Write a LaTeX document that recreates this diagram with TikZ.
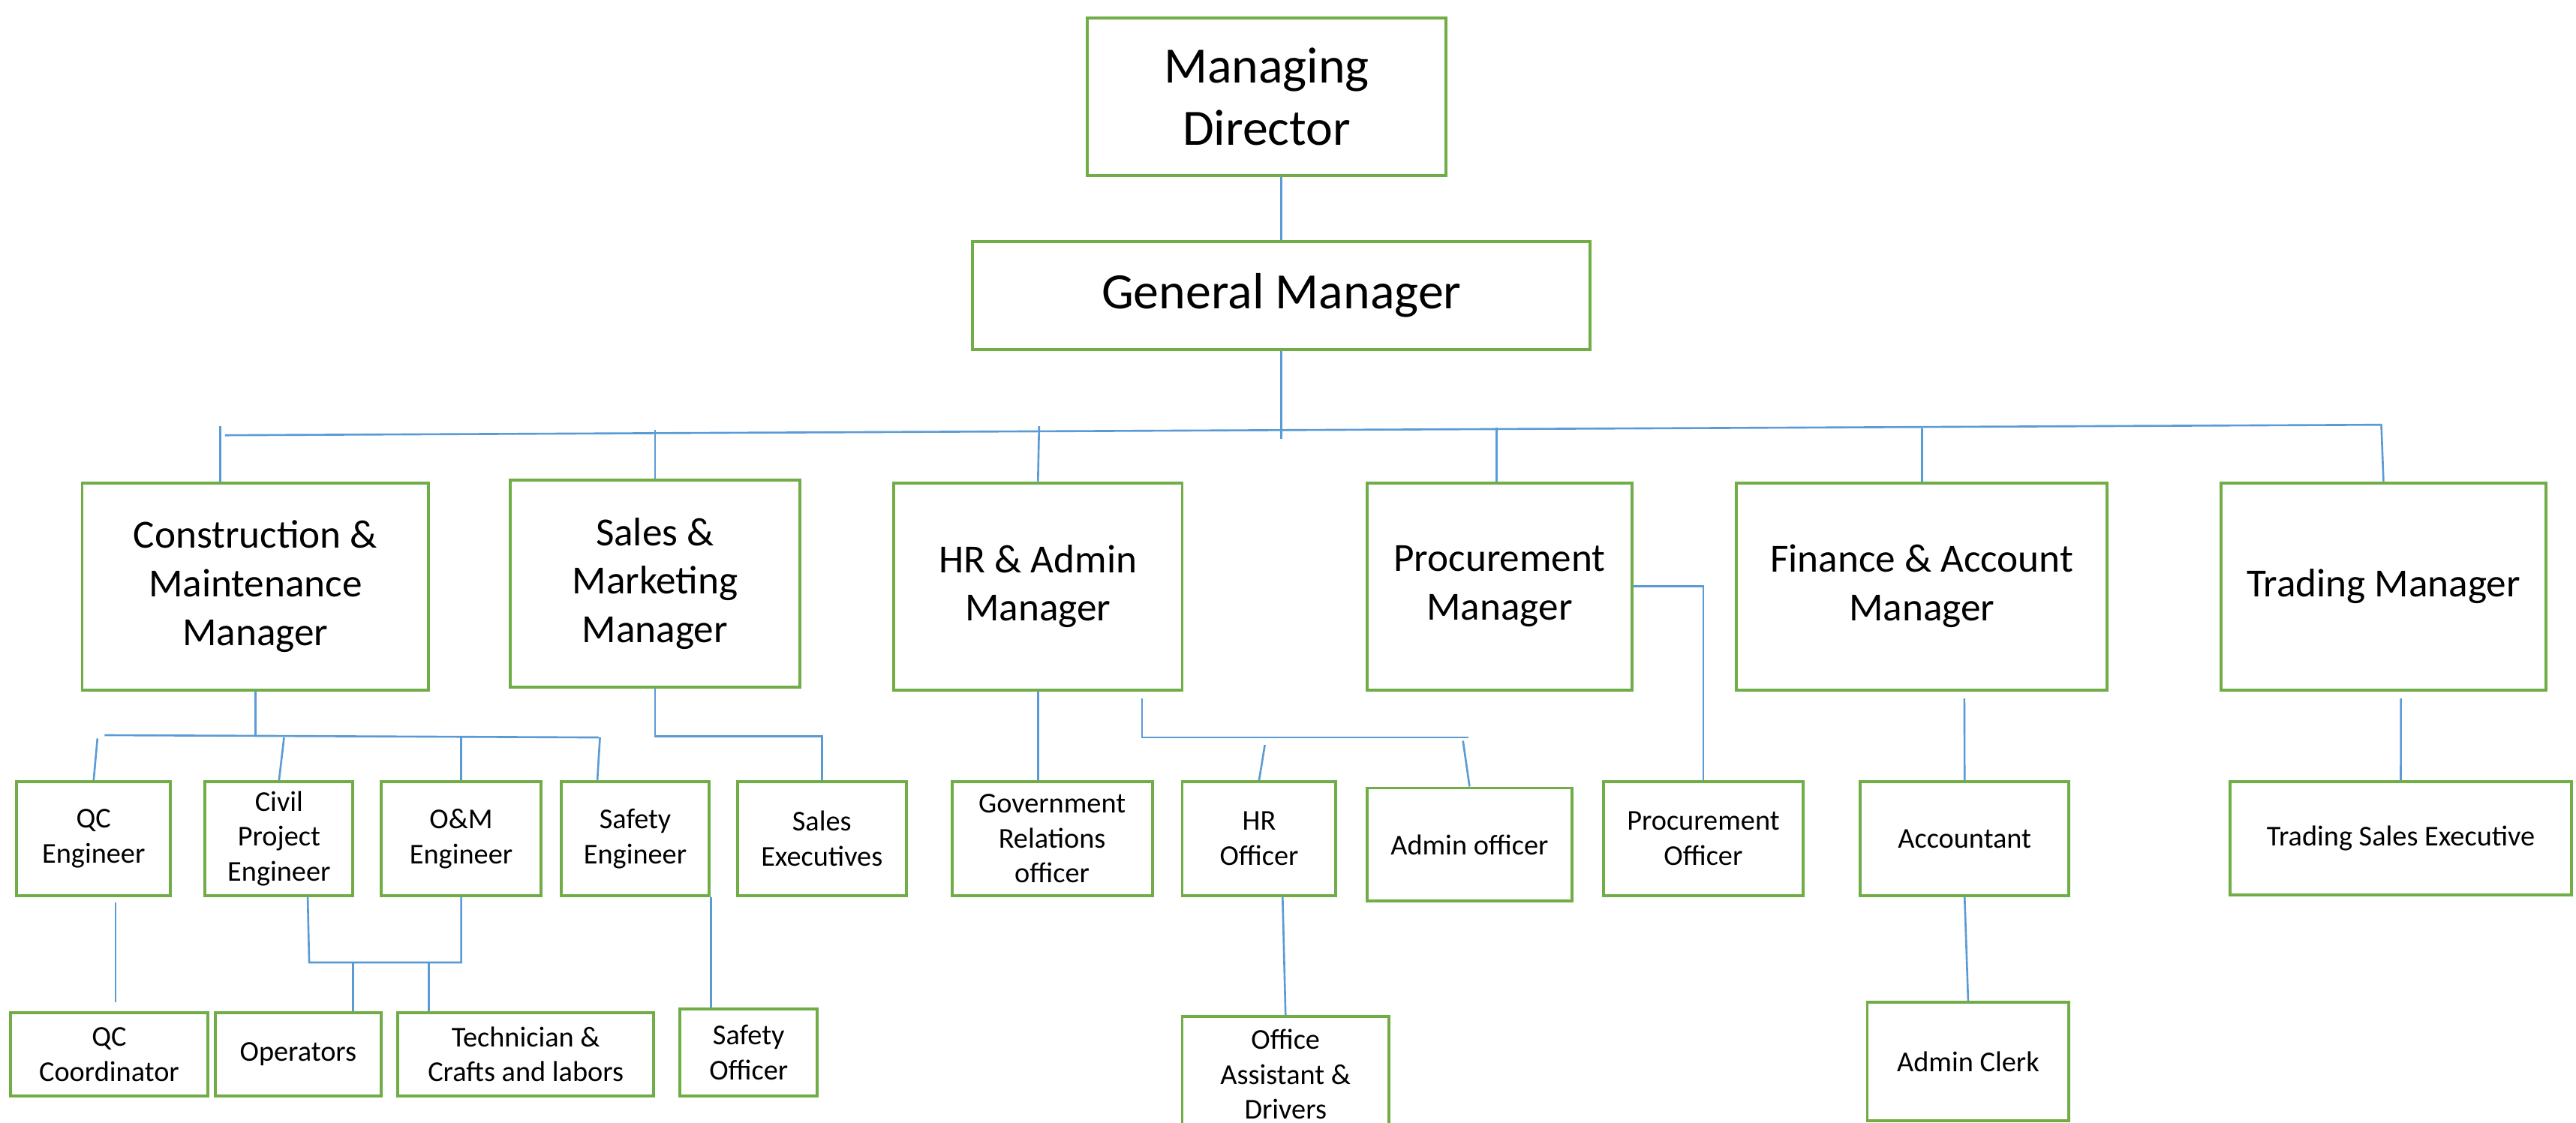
\documentclass[tikz,border=0pt]{standalone}
\usepackage{fontspec}
\setmainfont{Carlito}
\usetikzlibrary{calc}
\definecolor{boxgreen}{HTML}{70AD47}
\definecolor{wireblue}{HTML}{5B9BD5}
\tikzset{
  box/.style={draw=boxgreen, line width=1.8pt, fill=white, rectangle, inner sep=0pt, align=center, text=black},
  big/.style={box, font=\fontsize{31}{37.8}\selectfont},
  mgr/.style={box, font=\fontsize{24.3}{29.6}\selectfont},
  small/.style={box, font=\fontsize{17.5}{21.3}\selectfont},
  wire/.style={draw=wireblue, line width=1.2pt},
}
\begin{document}
\begin{tikzpicture}[x=1pt,y=-1pt]
\useasboundingbox (0,0) rectangle (1568,683.7);
\clip (0,0) rectangle (1568,683.7);
% top levels
\node[big, minimum width=218pt, minimum height=96pt] (md) at (771,59) {Managing\\Director};
\node[big, minimum width=376pt, minimum height=66pt] (gm) at (780,180) {General Manager};
% managers
\node[mgr, minimum width=211pt, minimum height=126pt] (cm) at (155.5,357) {Construction \&\\Maintenance\\Manager};
\node[mgr, minimum width=176pt, minimum height=126pt] (sm) at (398.7,355.3) {Sales \&\\Marketing\\Manager};
\node[mgr, minimum width=175.6pt, minimum height=126pt] (hr) at (631.8,357) {HR \& Admin\\Manager};
\node[mgr, minimum width=161.6pt, minimum height=126pt] (pm) at (912.8,357) {Procurement\\Manager};
\node[mgr, minimum width=225.5pt, minimum height=126pt] (fa) at (1169.8,357) {Finance \& Account\\Manager};
\node[mgr, minimum width=198pt, minimum height=126pt] (tm) at (1450.8,357) {Trading Manager};
% level 3
\node[small, minimum width=93.6pt, minimum height=69.3pt] (qce) at (57,510.6) {QC\\Engineer};
\node[small, minimum width=89.9pt, minimum height=69.3pt] (cpe) at (169.85,510.6) {Civil\\Project\\Engineer};
\node[small, minimum width=97.6pt, minimum height=69.3pt] (ome) at (280.7,510.6) {O\&M\\Engineer};
\node[small, minimum width=90.3pt, minimum height=69.3pt] (sfe) at (386.65,510.6) {Safety\\Engineer};
\node[small, minimum width=102.7pt, minimum height=69.3pt] (sex) at (500.25,510.6) {Sales\\Executives};
\node[small, minimum width=122pt, minimum height=69.3pt] (gro) at (640.4,510.6) {Government\\Relations\\officer};
\node[small, minimum width=93.6pt, minimum height=69.3pt] (hro) at (766.4,510.6) {HR\\Officer};
\node[small, minimum width=124.8pt, minimum height=68.9pt] (ado) at (894.5,514.25) {Admin officer};
\node[small, minimum width=121.3pt, minimum height=69.3pt] (pro) at (1036.75,510.6) {Procurement\\Officer};
\node[small, minimum width=127.1pt, minimum height=69.3pt] (acc) at (1195.85,510.6) {Accountant};
\node[small, minimum width=207.9pt, minimum height=68.8pt] (tse) at (1461.35,510.4) {Trading Sales Executive};
% bottom level
\node[small, minimum width=120.5pt, minimum height=50.6pt] (qcc) at (66.45,641.9) {QC\\Coordinator};
\node[small, minimum width=100.8pt, minimum height=50.6pt] (ops) at (181.5,641.9) {Operators};
\node[small, minimum width=155.9pt, minimum height=50.6pt] (tec) at (320.05,641.9) {Technician \&\\Crafts and labors};
\node[small, minimum width=83.4pt, minimum height=52.9pt] (sfo) at (455.7,640.75) {Safety\\Officer};
\node[small, minimum width=125.8pt, minimum height=70pt] (oad) at (782.5,654) {Office\\Assistant \&\\Drivers};
\node[small, minimum width=122.8pt, minimum height=71.9pt] (acl) at (1198,646.25) {Admin Clerk};
% top connectors
\draw[wire] (md.south -| gm.north) -- (gm.north);
\coordinate (gmb) at (780,267);
\draw[wire] (gm.south) -- (gmb);
\coordinate (busL) at (137,265);
\coordinate (busR) at (1450,258.6);
\draw[wire] (busL) -- (busR);
\coordinate (tcm) at (134,259.5);
\coordinate (tsm) at (398.7,261.7);
\coordinate (thr) at (632.5,259.5);
\coordinate (tpm) at (911,260.5);
\coordinate (tfa) at (1170,261);
\coordinate (ttm) at (1449.5,259);
\draw[wire] (tcm) -- (tcm |- cm.north);
\draw[wire] (tsm) -- (tsm |- sm.north);
\draw[wire] (thr) -- (hr.north);
\draw[wire] (tpm) -- (tpm |- pm.north);
\draw[wire] (tfa) -- (tfa |- fa.north);
\draw[wire] (ttm) -- (tm.north);
% construction & maintenance branch
\coordinate (cmj) at (155.5,448.3);
\draw[wire] (cm.south) -- (cmj);
\coordinate (cbL) at (63.7,447.6);
\coordinate (cbR) at (364.5,449);
\draw[wire] (cbL) -- (cbR);
\coordinate (qct) at (59.3,449.6);
\draw[wire] (qct) -- (qce.north);
\coordinate (cpt) at (172.9,449);
\draw[wire] (cpt) -- (cpe.north);
\draw[wire] (ome.north |- cbR) -- (ome.north);
\coordinate (sft) at (365.2,449);
\draw[wire] (sft) -- ($(sfe.north west)+(23,0)$);
% sales branch
\coordinate (smj) at (398.7,448.3);
\draw[wire] (sm.south) -- (smj) -- (smj -| sex.north) -- (sex.north);
% HR branch
\draw[wire] (hr.south) -- (hr.south |- gro.north);
\coordinate (hrs) at (695.1,425.3);
\coordinate (hrj) at (695.1,449);
\coordinate (hrR) at (894,449);
\draw[wire] (hrs) -- (hrj) -- (hrR);
\coordinate (hot) at (769.9,453.6);
\draw[wire] (hot) -- (hro.north);
\coordinate (aot) at (890.5,451);
\draw[wire] (aot) -- (ado.north);
\draw[wire] ($(hro.south)+(14.3,0)$) -- (oad.north);
% procurement
\draw[wire] (pm.east) -| (pro.north);
% finance & trading
\coordinate (fas) at (1195.7,425.3);
\draw[wire] (fas) -- (acc.north);
\draw[wire] (acc.south) -- (acl.north);
\coordinate (tms) at (1461.4,425.3);
\draw[wire] (tms) -- (tse.north);
% bottom connectors
\coordinate (qcs) at (70.3,549.3);
\coordinate (qcb) at (70.3,610.3);
\draw[wire] (qcs) -- (qcb);
\coordinate (cpd) at ($(cpe.south west)+(63.3,0)$);
\coordinate (mrg) at (188.2,586);
\draw[wire] (cpd) -- (mrg) -| (ome.south);
\coordinate (opd) at (214.8,586);
\draw[wire] (opd) -- (opd |- ops.north);
\coordinate (ted) at (261.1,586);
\draw[wire] (ted) -- (ted |- tec.north);
\draw[wire] (sfe.south east) -- (sfe.south east |- sfo.north);
\end{tikzpicture}
\end{document}
